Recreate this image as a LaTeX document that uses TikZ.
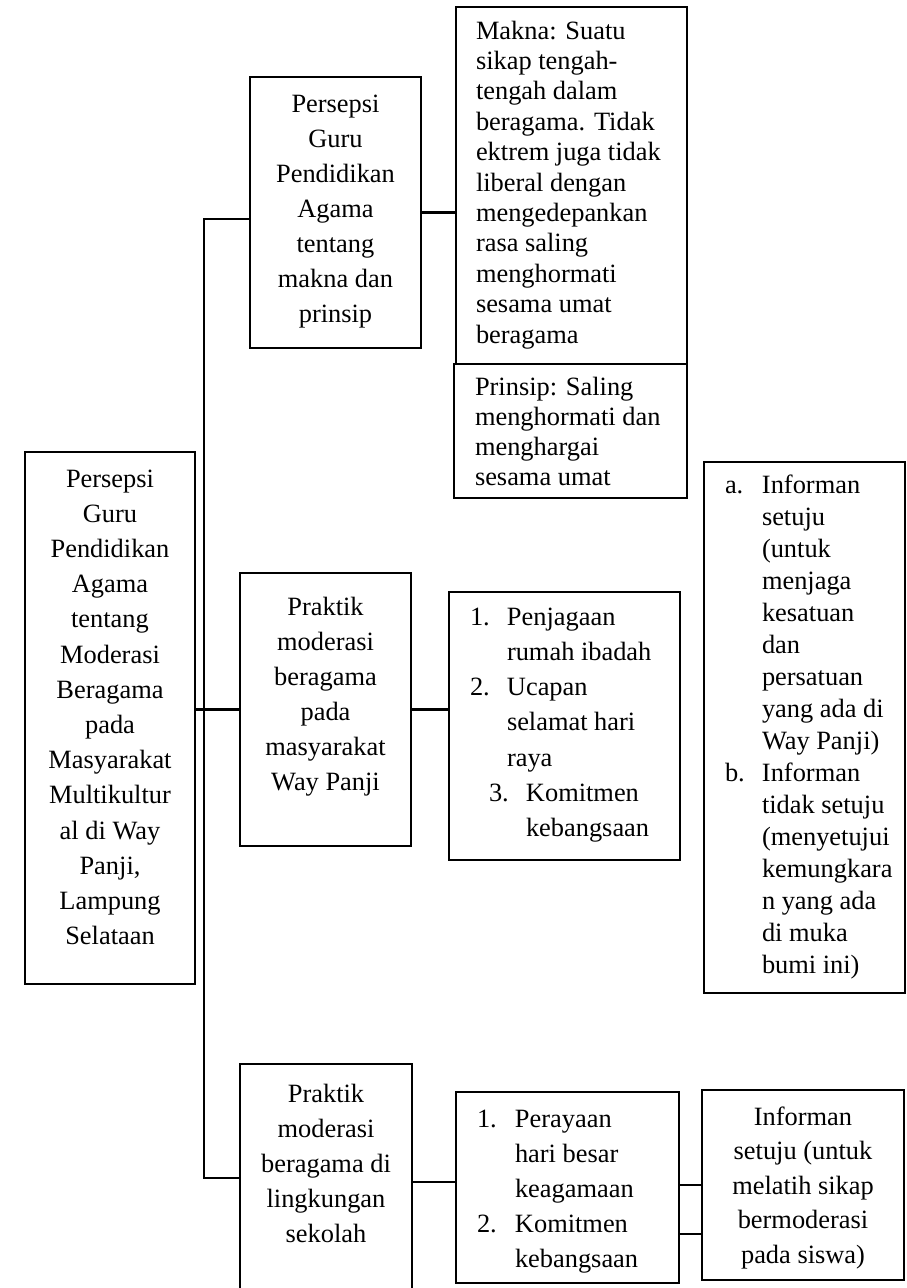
\documentclass[tikz,border=0pt]{standalone}
\usepackage{fontspec}
\setmainfont{Liberation Serif}
\newcommand\mysz[1]{\fontsize{26.4pt}{#1pt}\selectfont}
\newcommand\fl{\rule{0pt}{25pt}}
\begin{document}
\begin{tikzpicture}[x=1pt,y=-1pt,
  box/.style={draw=black, line width=1.4pt, rectangle, inner sep=0pt, outer sep=0pt, anchor=north west},
  link/.style={draw=black, line width=2.6pt},
  txt/.style={inner sep=0pt, outer sep=0pt, anchor=north, align=center},
  ltxt/.style={inner sep=0pt, outer sep=0pt, anchor=north west, align=left}]
\useasboundingbox (0,0) rectangle (907,1288);
\clip (0,0) rectangle (907,1288);

% boxes
\node[box, minimum width=170pt, minimum height=532pt] (main) at (25,452) {};
\node[box, minimum width=171pt, minimum height=271pt] (b2) at (250,77) {};
\node[box, minimum width=231pt, minimum height=357pt] (makna) at (456,7) {};
\node[box, minimum width=233pt, minimum height=134pt] (prinsip) at (454,364) {};
\node[box, minimum width=171pt, minimum height=273pt] (b3) at (240,573) {};
\node[box, minimum width=231pt, minimum height=268pt] (list1) at (449,592) {};
\node[box, minimum width=201pt, minimum height=531pt] (info) at (704,462) {};
\node[box, minimum width=172pt, minimum height=236pt] (b4) at (240,1064) {};
\node[box, minimum width=223pt, minimum height=191pt] (list2) at (456,1092) {};
\node[box, minimum width=202pt, minimum height=190pt] (last) at (702,1090) {};

% texts
\node[txt, font={\mysz{35.2}}] (maint) at (110,462) {\fl Persepsi\\Guru\\Pendidikan\\Agama\\tentang\\Moderasi\\Beragama\\pada\\Masyarakat\\Multikultur\\al di Way\\Panji,\\Lampung\\Selataan};
\node[txt, font={\mysz{35}}] (b2t) at (335.5,87) {\fl Persepsi\\Guru\\Pendidikan\\Agama\\tentang\\makna dan\\prinsip};
\node[ltxt, font={\mysz{30.4}}] (maknat) at (476,14) {\fl Makna: Suatu\\sikap tengah-\\tengah dalam\\beragama. Tidak\\ektrem juga tidak\\liberal dengan\\mengedepankan\\rasa saling\\menghormati\\sesama umat\\beragama};
\node[ltxt, font={\mysz{30}}] (prinsipt) at (475,370) {\fl Prinsip: Saling\\menghormati dan\\menghargai\\sesama umat};
\node[txt, font={\mysz{35}}] (b3t) at (325.5,590) {\fl Praktik\\moderasi\\beragama\\pada\\masyarakat\\Way Panji};
\node[ltxt, font={\mysz{35.3}}] (list1t) at (470,600) {\fl\makebox[37pt][l]{1.}Penjagaan\\\hspace*{37pt}rumah ibadah\\\makebox[37pt][l]{2.}Ucapan\\\hspace*{37pt}selamat hari\\\hspace*{37pt}raya\\\hspace*{19pt}\makebox[37pt][l]{3.}Komitmen\\\hspace*{56pt}kebangsaan};
\node[ltxt, font={\mysz{32}}] (infot) at (725,468) {\fl\makebox[37pt][l]{a.}Informan\\\hspace*{37pt}setuju\\\hspace*{37pt}(untuk\\\hspace*{37pt}menjaga\\\hspace*{37pt}kesatuan\\\hspace*{37pt}dan\\\hspace*{37pt}persatuan\\\hspace*{37pt}yang ada di\\\hspace*{37pt}Way Panji)\\\makebox[37pt][l]{b.}Informan\\\hspace*{37pt}tidak setuju\\\hspace*{37pt}(menyetujui\\\hspace*{37pt}kemungkara\\\hspace*{37pt}n yang ada\\\hspace*{37pt}di muka\\\hspace*{37pt}bumi ini)};
\node[txt, font={\mysz{35}}] (b4t) at (326,1077) {\fl Praktik\\moderasi\\beragama di\\lingkungan\\sekolah};
\node[ltxt, font={\mysz{35}}] (list2t) at (477,1102) {\fl\makebox[38pt][l]{1.}Perayaan\\\hspace*{38pt}hari besar\\\hspace*{38pt}keagamaan\\\makebox[38pt][l]{2.}Komitmen\\\hspace*{38pt}kebangsaan};
\node[txt, font={\mysz{34.6}}] (lastt) at (803,1100) {\fl Informan\\setuju (untuk\\melatih sikap\\bermoderasi\\pada siswa)};

% connectors
\coordinate (tt) at (204,219);
\coordinate (tb) at (204,1178);
\coordinate (k1) at (0,1185);
\coordinate (k2) at (0,1234);
\draw[link] (b2.west |- tt) -- (tt) -- (tb) -- (b4.west |- tb);
\draw[link] (main.east |- b3.west) -- (b3.west);
\draw[link] (b2.east) -- (b2.east -| makna.west);
\draw[link] (b3.east) -- (b3.east -| list1.west);
\draw[link] (b4.east) -- (b4.east -| list2.west);
\draw[link] (list2.east |- k1) -- (last.west |- k1);
\draw[link] (list2.east |- k2) -- (last.west |- k2);
\end{tikzpicture}
\end{document}
